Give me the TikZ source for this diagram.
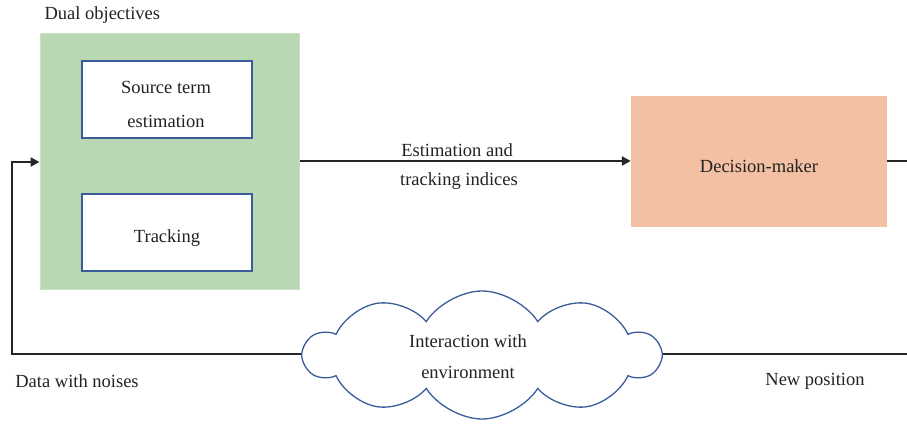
\documentclass[tikz,border=0pt]{standalone}
\usepackage{fontspec}
\setmainfont{Liberation Serif}
\usetikzlibrary{arrows.meta,shapes.symbols}
\definecolor{gfill}{HTML}{B8D7B2}
\definecolor{gline}{HTML}{C9E0C4}
\definecolor{pfill}{HTML}{F3C0A3}
\definecolor{bline}{HTML}{3A5C9A}
\definecolor{tcol}{HTML}{222222}
\tikzset{
  txt/.style={font=\fontsize{18.5}{22}\selectfont, text=tcol, align=center},
  inbox/.style={draw=bline, line width=1.3pt, fill=white, minimum width=170pt, minimum height=77pt},
  conn/.style={line width=2.6pt, draw=black!85},
  tip/.style={-{Triangle[length=9pt,width=9pt]}}
}
\begin{document}
\begin{tikzpicture}[x=1pt,y=-1pt]
\useasboundingbox (0,0) rectangle (907,427);
\node[fill=gfill, draw=gline, line width=1pt, minimum width=259pt, minimum height=256pt, inner sep=0pt] (dual) at (169.5,162) {};
\node[txt, anchor=west] (dualt) at (41,15) {Dual objectives};
\node[inbox] (ste) at (167,99.5) {};
\node[txt] (stet) at (166,104) {Source term\\[12pt]estimation};
\node[inbox] (trk) at (167,232.5) {};
\node[txt] (trkt) at (167,238) {Tracking};
\node[fill=pfill, minimum width=256pt, minimum height=131pt, inner sep=0pt] (dm) at (759,161.5) {};
\node[txt] (dmt) at (759,166) {Decision-maker};
\node[cloud, cloud puffs=10, cloud puff arc=115, aspect=2.8, draw=bline, line width=1.3pt, fill=white, minimum width=355pt, minimum height=128pt, inner sep=0pt] (env) at (482,355) {};
\node[txt] (envt) at (468,357) {Interaction with\\[9pt]environment};
\coordinate (rtop) at (907,161);
\coordinate (rbot) at (907,354);
\coordinate (lbot) at (12,354);
\coordinate (ltop) at (12,162);
\draw[conn, tip] (dual.east |- 0,161) -- (dm.west |- 0,161);
\node[txt] (lab1) at (457,150) {Estimation and};
\node[txt] (lab2) at (459,181) {tracking indices};
\draw[conn] (dm.east |- 0,161) -- (rtop);
\draw[conn] (env.east |- 0,354) -- (rbot);
\draw[conn, tip] (env.west |- 0,354) -- (lbot) -- (ltop) -- (dual.west |- 0,162);
\node[txt] (dwn) at (77,381) {Data with noises};
\node[txt] (np) at (815,381) {New position};
\end{tikzpicture}
\end{document}
